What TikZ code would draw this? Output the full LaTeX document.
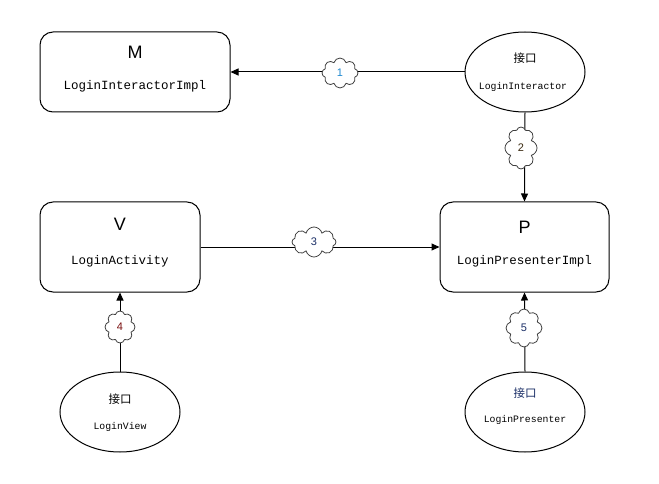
\documentclass[tikz,border=0pt]{standalone}
\usepackage{fontspec}
\setmainfont{Liberation Sans}
\setmonofont{Liberation Mono}
\newfontfamily\cjk{Noto Sans CJK SC}
\usetikzlibrary{shapes.geometric,shapes.symbols,arrows.meta}
\definecolor{numblue}{HTML}{1E88D0}
\definecolor{numbrown}{HTML}{3A2A10}
\definecolor{numnavy}{HTML}{1A2E66}
\definecolor{numred}{HTML}{7A1010}
\definecolor{cloudline}{HTML}{404040}
\begin{document}
\begin{tikzpicture}[x=1pt,y=-1pt,
  box/.style={draw,line width=1pt,rounded corners=13pt,align=center},
  iface/.style={draw,ellipse,line width=1pt,minimum width=120pt,minimum height=80pt,inner sep=0pt,align=center},
  cloudbox/.style={draw=cloudline,fill=white,cloud,cloud puffs=8,cloud puff arc=150,cloud ignores aspect,line width=0.8pt,inner sep=0pt,font=\fontsize{11}{13}\selectfont},
  conn/.style={line width=1pt,-{Triangle[length=8pt,width=7pt]}},
  big/.style={font=\fontsize{18}{20}\selectfont},
  code/.style={font=\ttfamily\fontsize{12.5}{14}\selectfont},
  small/.style={font=\ttfamily\fontsize{9.8}{12}\selectfont}]
\useasboundingbox (0,0) rectangle (659,484);
% boxes
\node[box,minimum width=190pt,minimum height=80pt] (M) at (135,72) {};
\node[big] (Mt) at (135,52) {M};
\node[code] (Ml) at (135,86) {LoginInteractorImpl};
\node[box,minimum width=160pt,minimum height=90pt] (V) at (120,247) {};
\node[big] (Vt) at (120,224) {V};
\node[code] (Vl) at (120,261) {LoginActivity};
\node[box,minimum width=169pt,minimum height=90pt] (P) at (524.5,247) {};
\node[big] (Pt) at (524.5,227) {P};
\node[code] (Pl) at (524.5,261) {LoginPresenterImpl};
% interfaces
\node[iface] (I) at (525,72) {};
\node[font=\cjk\fontsize{11.5}{13}\selectfont] (It) at (525,58) {接口};
\node[small] (Il) at (523,87) {LoginInteractor};
\node[iface] (IV) at (120,412) {};
\node[font=\cjk\fontsize{11.5}{13}\selectfont] (IVt) at (120,399) {接口};
\node[small] (IVl) at (120,427) {LoginView};
\node[iface] (IP) at (525,412) {};
\node[font=\cjk\fontsize{11.5}{13}\selectfont,text=numnavy] (IPt) at (525,393) {接口};
\node[small] (IPl) at (525,420) {LoginPresenter};
% connectors
\draw[conn] (I.west) -- (M.east);
\draw[conn] (I.south) -- (P.north);
\draw[conn] (V.east) -- (P.west);
\draw[conn] (IV.north) -- (V.south);
\draw[conn] (IP.north) -- (P.south);
% clouds
\node[cloudbox,minimum width=36pt,minimum height=30pt,text=numblue] (c1) at (340,73) {1};
\node[cloudbox,minimum width=32pt,minimum height=42pt,text=numbrown] (c2) at (521,148) {2};
\node[cloudbox,minimum width=44pt,minimum height=30pt,text=numnavy] (c3) at (314,242) {3};
\node[cloudbox,minimum width=30pt,minimum height=32pt,text=numred] (c4) at (120,327) {4};
\node[cloudbox,minimum width=36pt,minimum height=38pt,text=numnavy] (c5) at (524,328) {5};
\end{tikzpicture}
\end{document}
